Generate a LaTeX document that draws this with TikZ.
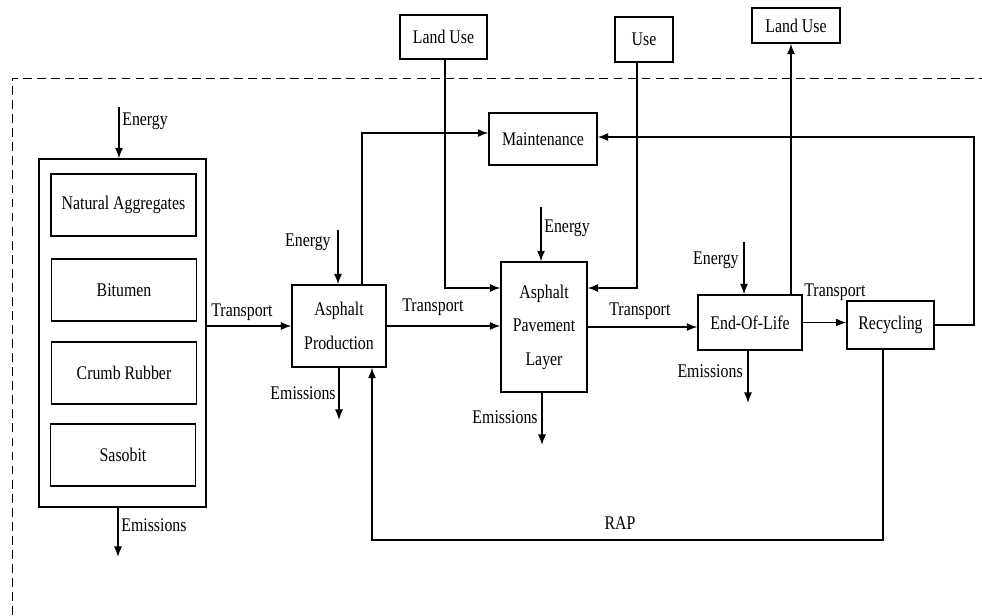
\documentclass[tikz,border=0pt]{standalone}
\usepackage{fontspec}
\setmainfont{Liberation Serif}[FakeStretch=0.82]
\usetikzlibrary{arrows.meta,positioning}

\begin{document}
\begin{tikzpicture}[
  x={(0.02cm,0)}, y={(0,-0.02cm)},
  >={Latex[length=6pt,width=4.6pt]},
  font={\fontsize{11pt}{19pt}\selectfont},
  box/.style={draw,line width=0.75pt,align=center,inner sep=2pt},
  item/.style={box,minimum width=2.9cm,minimum height=1.24cm},
  lab/.style={inner sep=0pt},
  flow/.style={->,line width=0.85pt},
  boundary/.style={draw,dashed,dash pattern=on 5pt off 3pt,line width=0.55pt},
]
\useasboundingbox (0,0) rectangle (982,615);

% ---------- system boundary ----------
\coordinate (bl) at (12,615);
\coordinate (tl) at (12,78);
\coordinate (tr) at (982,78);
\draw[boundary] (bl) -- (tl) -- (tr);

% ---------- raw materials (left) ----------
\node[box,minimum width=3.34cm,minimum height=6.96cm] (mat) at (122.5,333) {};
\node[item] (agg) at (123.5,205) {Natural Aggregates};
\node[item] (bit) at (124,290) {Bitumen};
\node[item] (rub) at (124,373) {Crumb Rubber};
\node[item] (sas) at (123,455) {Sasobit};

\coordinate (me) at (119,107);
\coordinate (mm) at (118,557);
\draw[flow] (me) -- (me |- mat.north);
\draw[flow] (mm |- mat.south) -- (mm);
\node[lab,anchor=west] (meL) at (122,121) {Energy};
\node[lab,anchor=west] (mmL) at (121,525) {Emissions};

% ---------- process chain ----------
\node[box,minimum width=1.88cm,minimum height=1.64cm] (prod) at (339,326) {Asphalt\\Production};
\node[box,minimum width=1.72cm,minimum height=2.6cm] (layer) at (544,327) {Asphalt\\Pavement\\Layer};
\node[box,minimum width=2.08cm,minimum height=1.1cm] (eol) at (750,322.5) {End-Of-Life};
\node[box,minimum width=1.74cm,minimum height=0.96cm] (rec) at (890.5,325) {Recycling};
\node[box,minimum width=2.16cm,minimum height=1.04cm] (maint) at (543,139) {Maintenance};

% outside the boundary
\node[box,minimum width=1.74cm,minimum height=0.88cm] (land1) at (443.5,37) {Land Use};
\node[box,minimum width=1.16cm,minimum height=0.9cm] (use) at (644,39.5) {Use};
\node[box,minimum width=1.76cm,minimum height=0.7cm] (land2) at (796,25.5) {Land Use};

% transport links
\draw[flow] (mat.east |- prod.west) -- (prod.west);
\draw[flow] (prod.east) -- (prod.east -| layer.west);
\draw[flow] (layer.east) -- (layer.east -| eol.west);
\draw[flow] (eol.east) -- (eol.east -| rec.west);
\node[lab,anchor=west] (t1) at (211,312) {Transport};
\node[lab,anchor=west] (t2) at (402,307) {Transport};
\node[lab,anchor=west] (t3) at (609,311) {Transport};
\node[lab,anchor=west] (t4) at (804,292) {Transport};

% energy in
\coordinate (pe) at (338,230);
\coordinate (le) at (541,207);
\coordinate (ee) at (744,242);
\draw[flow] (pe) -- (pe |- prod.north);
\draw[flow] (le) -- (le |- layer.north);
\draw[flow] (ee) -- (ee |- eol.north);
\node[lab,anchor=east] (peL) at (331,242) {Energy};
\node[lab,anchor=west] (leL) at (544,228) {Energy};
\node[lab,anchor=east] (eeL) at (739,260) {Energy};

% emissions out
\coordinate (pm) at (339,420);
\coordinate (lm) at (542,445);
\coordinate (em) at (748,403);
\draw[flow] (pm |- prod.south) -- (pm);
\draw[flow] (lm |- layer.south) -- (lm);
\draw[flow] (em |- eol.south) -- (em);
\node[lab,anchor=east] (pmL) at (336,393) {Emissions};
\node[lab,anchor=east] (lmL) at (538,417) {Emissions};
\node[lab,anchor=east] (emL) at (743,371) {Emissions};

% ---------- maintenance and land use ----------
\coordinate (pk) at (362,133);
\coordinate (fb) at (974,137);
\draw[flow] (pk |- prod.north) -- (pk) -- (pk -| maint.west);
\draw[flow] (rec.east) -| (fb) -- (fb -| maint.east);

\coordinate (lu) at (445,288);
\coordinate (us) at (637,288);
\coordinate (lo) at (791,0);
\draw[flow] (land1.south -| lu) -- (lu) -- (lu -| layer.west);
\draw[flow] (use.south -| us) -- (us) -- (us -| layer.east);
\draw[flow] (eol.north -| lo) -- (land2.south -| lo);

% ---------- RAP loop ----------
\coordinate (rapR) at (883,540);
\coordinate (rapL) at (372,540);
\draw[flow] (rapR |- rec.south) -- (rapR) -- (rapL) -- (rapL |- prod.south);
\node[lab] (rapT) at (620,523) {RAP};

\end{tikzpicture}
\end{document}
